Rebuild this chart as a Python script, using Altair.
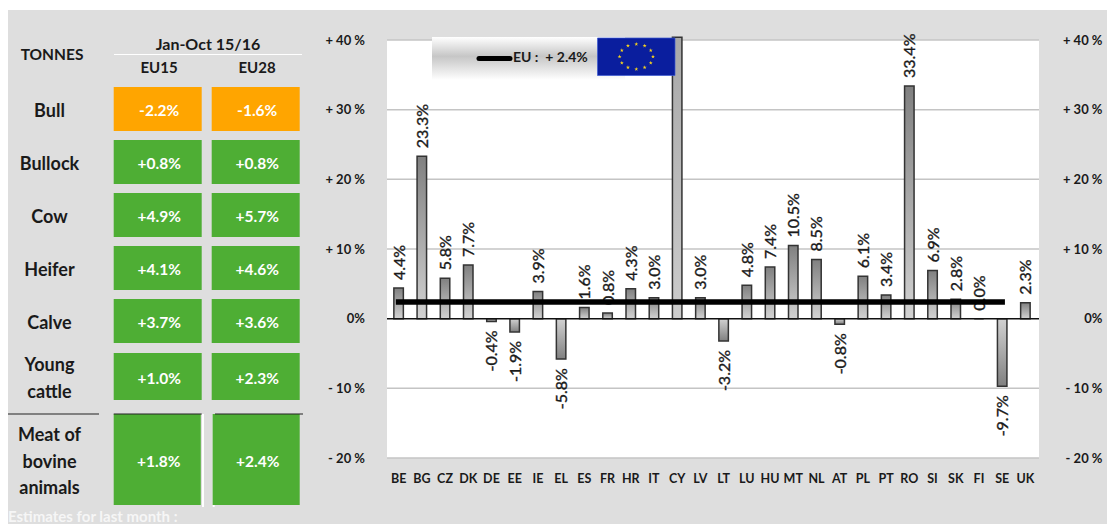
import altair as alt
import pandas as pd

countries = ["BE","BG","CZ","DK","DE","EE","IE","EL","ES","FR","HR","IT","CY","LV","LT","LU","HU","MT","NL","AT","PL","PT","RO","SI","SK","FI","SE","UK"]
changes = [4.4,23.3,5.8,7.7,-0.4,-1.9,3.9,-5.8,1.6,0.8,4.3,3.0,40.4,3.0,-3.2,4.8,7.4,10.5,8.5,-0.8,6.1,3.4,33.4,6.9,2.8,0.0,-9.7,2.3]
eu_avg = 2.4
y_ticks = [40,30,20,10,0,-10,-20]

rows_regular = ["Bull","Bullock","Cow","Heifer","Calve"]
eu15_regular = ["-2.2%","+0.8%","+4.9%","+4.1%","+3.7%"]
eu28_regular = ["-1.6%","+0.8%","+5.7%","+4.6%","+3.6%"]
row_young = "Young\ncattle"
young_vals = ["+1.0%","+2.3%"]
row_meat = "Meat of\nbovine\nanimals"
meat_vals = ["+1.8%","+2.4%"]
columns = ["EU15","EU28"]
hours = list(range(12))

FONT = "Lato"
BG = "#dedede"
GREEN = "#4eae34"
ORANGE = "#ffa500"
TEXT = "#1a1a1a"
W, H = 1099, 514

df = pd.DataFrame({"c": countries, "v": changes})
y_scale = alt.Scale(domain=[-20, 40], range=[448, 30], nice=False, zero=False)
x_scale = alt.Scale(type="band", domain=countries, range=[379, 1029], paddingInner=0, paddingOuter=0)
X = alt.X("c:N", scale=x_scale, axis=None, sort=None)
Y = alt.Y("v:Q", scale=y_scale, axis=None)
Y0 = alt.Y2(datum=0)


def grad(c1, c2):
    return alt.LinearGradient(gradient="linear", x1=0, x2=0, y1=0, y2=1,
                              stops=[alt.GradientStop(color=c1, offset=0), alt.GradientStop(color=c2, offset=1)])


layers = []

# ---- plot area
plot_bg = alt.Chart(pd.DataFrame({"a": [40], "b": [-20]})).mark_rect(color="white").encode(
    x=alt.value(379), x2=alt.value(1031),
    y=alt.Y("a:Q", scale=y_scale, axis=None), y2="b:Q")
layers.append(plot_bg)

tick_df = pd.DataFrame({"v": [t for t in y_ticks if t != 0]})
left_axis = alt.Axis(values=y_ticks, orient="left", offset=-356.5, labelPadding=0, domain=False, ticks=False,
                     grid=False, title=None, labelFont=FONT, labelFontSize=13, labelFontWeight="bold", labelColor=TEXT,
                     labelExpr="datum.value>0 ? '+ '+datum.value+' %' : datum.value<0 ? '- '+abs(datum.value)+' %' : '0%\u00a0\u00a0'")
right_axis = alt.Axis(values=y_ticks, orient="right", offset=1094 - W, labelPadding=0, domain=False, ticks=False,
                      grid=False, title=None, labelFont=FONT, labelFontSize=13, labelFontWeight="bold", labelColor=TEXT, labelAlign="right",
                      labelExpr="datum.value>0 ? '+ '+datum.value+' %' : datum.value<0 ? '- '+abs(datum.value)+' %' : '0%\u00a0'")
layers.append(alt.Chart(tick_df).mark_rule(color="#c4c4c4", strokeWidth=1.5).encode(
    x=alt.value(379), x2=alt.value(1031), y=alt.Y("v:Q", scale=y_scale, axis=left_axis)))
layers.append(alt.Chart(tick_df).mark_rule(opacity=0).encode(
    x=alt.value(379), x2=alt.value(1031), y=alt.Y("v:Q", scale=y_scale, axis=right_axis)))

# ---- bars
bar_kw = dict(size=9.5, stroke="#333333", strokeWidth=1.5)
x_axis = alt.Axis(orient="bottom", offset=448 - H, labelPadding=14, domain=False, ticks=False, grid=False, title=None,
                  labelAngle=0, labelFont=FONT, labelFontSize=12.5, labelFontWeight="bold", labelColor=TEXT)
layers.append(alt.Chart(df).transform_filter("datum.v>=0 && datum.c!='CY'").mark_bar(color=grad("#808080", "#d2d2d2"), **bar_kw).encode(
    x=alt.X("c:N", scale=x_scale, axis=x_axis, sort=None), y=Y, y2=Y0))
layers.append(alt.Chart(df).transform_filter("datum.v<0").mark_bar(color=grad("#d2d2d2", "#808080"), **bar_kw).encode(x=X, y=Y, y2=Y0))
layers.append(alt.Chart(df).transform_filter("datum.c=='CY'").mark_bar(color=grad("#a8a8a8", "#cccccc"), **bar_kw).encode(x=X, y=Y, y2=Y0))

# ---- bar labels (dx / dy act in the rotated frame of the text)
lab_kw = dict(font=FONT, fontSize=16, color=TEXT, stroke=TEXT, strokeWidth=0.35, angle=270, baseline="middle")
df["label"] = [f"{v:.1f}%" for v in changes]
layers.append(alt.Chart(df).transform_filter("datum.v>=0 && datum.c!='CY'").mark_text(align="left", dx=8, dy=1, **lab_kw).encode(
    x=X, y=Y, text="label:N"))
layers.append(alt.Chart(df).transform_filter("datum.v<0").mark_text(align="right", dx=-9, dy=1, **lab_kw).encode(
    x=X, y=Y, text="label:N"))

# ---- zero line and EU average line
layers.append(alt.Chart(pd.DataFrame({"v": [0]})).mark_rule(color="#111111", strokeWidth=1.5).encode(
    x=alt.value(379), x2=alt.value(1031), y=Y))
eu_df = pd.DataFrame({"c": countries[:-1], "v": [eu_avg] * (len(countries) - 1)})
layers.append(alt.Chart(eu_df).mark_line(color="black", strokeWidth=5.5, strokeCap="square").encode(x=X, y=Y))

# ---- legend box
one = pd.DataFrame({"a": [0]})
legend_grad = alt.LinearGradient(gradient="linear", x1=0, x2=0, y1=0, y2=1, stops=[
    alt.GradientStop(color="#ffffff", offset=0), alt.GradientStop(color="#c6c6c6", offset=0.45),
    alt.GradientStop(color="#ffffff", offset=1)])
layers.append(alt.Chart(one).mark_rect(color=legend_grad).encode(
    x=alt.value(424), x2=alt.value(617), y=alt.value(27), y2=alt.value(70)))
layers.append(alt.Chart(one).mark_rect(color="#0a1e9e", stroke="#3c5ad2", strokeWidth=0.7).encode(
    x=alt.value(589.5), x2=alt.value(667), y=alt.value(28), y2=alt.value(65.5)))
star = "M0,-1L0.22,-0.31L0.95,-0.31L0.36,0.12L0.59,0.81L0,0.38L-0.59,0.81L-0.36,0.12L-0.95,-0.31L-0.22,-0.31Z"
layers.append(alt.Chart(pd.DataFrame({"h": hours})).transform_calculate(
    sx="sin(datum.h*PI/6)", sy="cos(datum.h*PI/6)").mark_point(
    shape=star, size=18, filled=True, color="#f6d21e", opacity=1).encode(
    x=alt.X("sx:Q", scale=alt.Scale(domain=[-1, 1], range=[611.6, 645], nice=False, zero=False), axis=None),
    y=alt.Y("sy:Q", scale=alt.Scale(domain=[-1, 1], range=[59.1, 34.1], nice=False, zero=False), axis=None)))
layers.append(alt.Chart(one).mark_rule(color="black", strokeWidth=5, strokeCap="round").encode(
    x=alt.value(471), x2=alt.value(502), y=alt.value(48.5)))
layers.append(alt.Chart(pd.DataFrame({"t": ["EU :\u00a0\u00a0+ 2.4%"]})).mark_text(
    align="left", font=FONT, fontSize=14, fontWeight="bold", color=TEXT).encode(
    x=alt.value(505), y=alt.value(48), text="t:N"))


# ---- table
def cells(rows, v15, v28, yr, pad, lines):
    d = pd.DataFrame({"r": rows * 2, "col": ["EU15"] * len(rows) + ["EU28"] * len(rows), "t": v15 + v28})
    d["neg"] = d["t"].str.startswith("-")
    xs = alt.Scale(type="band", domain=columns, range=[105.7, 291.7], paddingInner=pad, paddingOuter=0)
    ys = alt.Scale(type="band", domain=rows, range=yr, paddingInner=0.17, paddingOuter=0)
    cx = alt.X("col:N", scale=xs, axis=None)
    cy = alt.Y("r:N", scale=ys, axis=None, sort=None)
    rect = alt.Chart(d).mark_rect().encode(
        x=cx, y=cy, color=alt.condition("datum.neg", alt.value(ORANGE), alt.value(GREEN)))
    txt = alt.Chart(d).mark_text(font=FONT, fontSize=15.5, fontWeight="bold", color="white", dx=1.5, dy=2).encode(
        x=cx, y=cy, text="t:N")
    name = alt.Chart(pd.DataFrame({"r": rows})).mark_text(
        font=FONT, fontSize=18, fontWeight="bold", color=TEXT, lineBreak="\n", lineHeight=26.5,
        dy=3 - (lines - 1) * 13.25).encode(x=alt.value(41.5), y=cy, text="r:N")
    return [rect, txt, name]


layers += cells(rows_regular, eu15_regular, eu28_regular, [77, 333], 0.102, 1)
layers += cells([row_young], young_vals[:1], young_vals[1:], [343, 390], 0.102, 2)

for a, b in [(194, 196), (204.7, 206.7)]:
    layers.append(alt.Chart(one).mark_rect(color="white").encode(
        x=alt.value(a), x2=alt.value(b), y=alt.value(404), y2=alt.value(497)))
layers += cells([row_meat], meat_vals[:1], meat_vals[1:], [404, 495], 0.12, 3)

for a, b, col, yv in [(0, 91, "#222222", 404), (105.7, 193.7, "#222222", 404), (207, 295, "#222222", 404), (106, 294, "white", 44.5)]:
    layers.append(alt.Chart(one).mark_rule(color=col, strokeWidth=1.2).encode(
        x=alt.value(a), x2=alt.value(b), y=alt.value(yv)))

for t, px, py, fs in [("TONNES", 44, 45, 15.5), ("Jan-Oct 15/16", 200, 35, 16), ("EU15", 151, 57.5, 15), ("EU28", 249, 57.5, 15)]:
    layers.append(alt.Chart(pd.DataFrame({"t": [t]})).mark_text(
        font=FONT, fontSize=fs, fontWeight="bold", color=TEXT).encode(
        x=alt.value(px), y=alt.value(py), text="t:N"))
layers.append(alt.Chart(pd.DataFrame({"t": ["Estimates for last month :"]})).mark_text(
    font=FONT, fontSize=15, fontWeight="bold", color="#f6f6f6", align="left").encode(
    x=alt.value(0), y=alt.value(507), text="t:N"))

chart = alt.layer(*layers).resolve_scale(x="independent", y="independent", color="independent").properties(
    width=W, height=H, padding={"top": 2, "left": 0, "right": 0, "bottom": 0}, autosize="none", background="white"
).configure_view(fill=BG, strokeWidth=0)

chart.save("out.html", embed_options={"renderer": "svg", "actions": False})
